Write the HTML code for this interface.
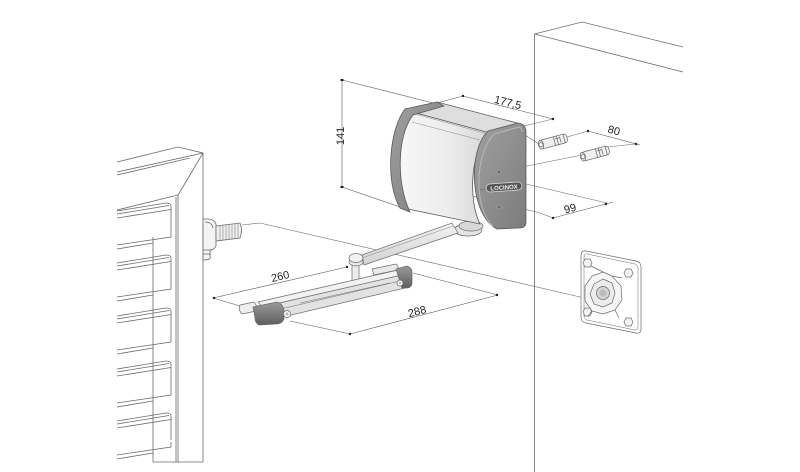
<!DOCTYPE html>
<html><head><meta charset="utf-8"><style>
html,body{margin:0;padding:0;background:#fff;}
svg{display:block}
text{font-family:"Liberation Sans",sans-serif;font-size:11px;fill:#222}
</style></head><body>
<svg width="800" height="472" viewBox="0 0 800 472" xmlns="http://www.w3.org/2000/svg">
<defs>
<linearGradient id="body" x1="0" y1="0" x2="1" y2="0">
 <stop offset="0" stop-color="#f7f7f7"/><stop offset="0.55" stop-color="#ececec"/><stop offset="1" stop-color="#d6d6d6"/>
</linearGradient>
<linearGradient id="cap" x1="0" y1="0" x2="1" y2="1">
 <stop offset="0" stop-color="#a0a0a0"/><stop offset="1" stop-color="#7c7c7c"/>
</linearGradient>
<linearGradient id="dk" x1="0" y1="0" x2="0" y2="1">
 <stop offset="0" stop-color="#9a9a9a"/><stop offset="1" stop-color="#5e5e5e"/>
</linearGradient>
<linearGradient id="arm" x1="0" y1="0" x2="0" y2="1">
 <stop offset="0" stop-color="#f2f2f2"/><stop offset="1" stop-color="#d2d2d2"/>
</linearGradient>
</defs>

<!-- WALL -->
<g fill="none" stroke="#6e6e6e" stroke-width="0.8">
 <path d="M534.5,34 V472 M534.5,34 L582,22 L683,47 M534.5,34 L683,72"/>
</g>

<!-- GATE -->
<g fill="none" stroke="#6a6a6a" stroke-width="0.8">
 <path d="M117,162 L178,147 L203,153 V462 H153"/>
 <path d="M117,172 L203,153 M117,175 L190,158"/>
 <path d="M203,153 L178,195 V462 M176,197 V462 M117,210 L178,195"/>
 <path d="M153,237 V462"/>
 <!-- slats -->
 <g id="slat">
  <path d="M117,211 L166,203 Q171,203 171,206 V237 L117,245 M117,214 L169,205.5 M117,218 L171,209.5 M117,249 L153,243"/>
 </g>
 <use href="#slat" transform="translate(0,52)"/>
 <use href="#slat" transform="translate(0,105)"/>
 <use href="#slat" transform="translate(0,158)"/>
 <use href="#slat" transform="translate(0,210)"/>
</g>
<rect x="153.5" y="440" width="22" height="2" fill="#fff"/>

<!-- hinge bolt on gate -->
<g stroke="#6a6a6a" stroke-width="0.8">
 <path d="M203,219 Q214,218 216,224 L216,246 Q214,250 210,250 L210,256 Q212,260 203,260 Z" fill="#f4f4f4"/>
 <path d="M203,250 H212 M203,254 H211 M205,222 Q212,222 213,228" fill="none"/>
 <path d="M216,226 L240,223 Q243,230 240,238 L216,241 Z" fill="#f0f0f0"/>
 <path d="M220,226 V241 M223,225.5 V240.5 M226,225 V240 M229,224.7 V239.7 M232,224.4 V239.4 M235,224 V239 M238,223.6 V238.6" stroke-width="0.5" fill="none"/>
</g>

<!-- long thin construction lines -->
<g fill="none" stroke="#6a6a6a" stroke-width="0.6">
 <path d="M242,225 L260,223 L593,300"/>
 <!-- box to wall lines -->
 <path d="M520,127 L553,119"/>
 <path d="M522,133 L540,145"/>
 <path d="M522,167 L582,155"/>
 <path d="M522,183 L607,203"/>
 <path d="M473,196 L540,213 L553,218"/>
 <path d="M567,137 L588,131"/>
 <path d="M608,147 L635,144"/>
</g>

<!-- DIMENSIONS -->
<g fill="none" stroke="#555" stroke-width="0.6">
 <!-- 141 -->
 <path d="M342,80 V187 M342,80 L433,103 M342,187 L400,207"/>
 <!-- 177,5 -->
 <path d="M437,103 L463,96 L553,119"/>
 <!-- 80 -->
 <path d="M588,131 L640,145"/>
 <!-- 99 -->
 <path d="M553,218 L613,202"/>
 <!-- 260 -->
 <path d="M213,298 L347,267 M213,298 L240,306"/>
 <!-- 288 -->
 <path d="M290,321 L350,334 L498,295 M413,273 L498,295"/>
</g>
<g fill="#222">
 <rect x="340.5" y="79" width="3" height="2"/><rect x="340.5" y="186" width="3" height="2"/>
 <circle cx="463" cy="96" r="1.2"/><circle cx="553" cy="119" r="1.2"/>
 <circle cx="588" cy="131" r="1.2"/><circle cx="636" cy="144" r="1.2"/>
 <circle cx="553" cy="218" r="1.2"/><circle cx="606" cy="204" r="1.2"/>
 <circle cx="214" cy="298" r="1.2"/><circle cx="347" cy="267" r="1.2"/>
 <circle cx="350" cy="334" r="1.2"/><circle cx="497" cy="295" r="1.2"/>
</g>
<text transform="translate(344,136) rotate(-90)" text-anchor="middle">141</text>
<text transform="translate(507,106) rotate(14)" text-anchor="middle">177,5</text>
<text transform="translate(613,134) rotate(15)" text-anchor="middle">80</text>
<text transform="translate(571,212) rotate(-15)" text-anchor="middle">99</text>
<text transform="translate(281,280) rotate(-13)" text-anchor="middle">260</text>
<text transform="translate(418,315) rotate(-15)" text-anchor="middle">288</text>

<!-- WALL ANCHORS -->
<g stroke="#666" stroke-width="0.7">
 <g transform="translate(540,145) rotate(-15)">
  <rect x="0" y="-4.5" width="28" height="9" rx="3" fill="#efefef"/>
  <ellipse cx="1" cy="0" rx="2.5" ry="4.5" fill="#e2e2e2"/>
  <circle cx="1" cy="0" r="2" fill="#fff"/>
  <path d="M15,-4.5 V4.5 M18,-4.5 V4.5 M16,-2 H21 M21,-3 V3 M25,-4.5 V4.5" fill="none"/>
 </g>
 <g transform="translate(582,157) rotate(-15)">
  <rect x="0" y="-4.5" width="28" height="9" rx="3" fill="#efefef"/>
  <ellipse cx="1" cy="0" rx="2.5" ry="4.5" fill="#e2e2e2"/>
  <circle cx="1" cy="0" r="2" fill="#fff"/>
  <path d="M15,-4.5 V4.5 M18,-4.5 V4.5 M16,-2 H21 M21,-3 V3 M25,-4.5 V4.5" fill="none"/>
 </g>
</g>

<!-- WALL PLATE -->
<g stroke="#6a6a6a" stroke-width="0.7" fill="#fff">
 <path d="M586,251 L636,261 Q641,262 641,267 L641,329 Q641,334 636,333 L586,323 Q581,322 581,317 L581,256 Q581,250 586,251 Z"/>
 <path d="M587,254 L635,264 Q638,265 638,269 L638,327 Q638,330 635,330 L587,320 Q584,319 584,316 L584,258 Q584,253 587,254 Z" fill="none" stroke-width="0.5"/>
 <g fill="#f4f4f4">
  <path d="M583,263 L585,259 L590,259 L592,263 L590,267 L585,267 Z"/>
  <path d="M624,273 L626,269 L631,269 L633,273 L631,277 L626,277 Z"/>
  <path d="M583,312 L585,308 L590,308 L592,312 L590,316 L585,316 Z"/>
  <path d="M624,322 L626,318 L631,318 L633,322 L631,326 L626,326 Z"/>
 </g>
 <path d="M603,272 L612,276 L621,286 L622,300 L615,310 L603,314 L592,311 L585,301 L585,286 L592,276 Z" fill="#f6f6f6"/>
 <path d="M591,266 L603,272 M622,278 L612,276 M588,316 L592,311 M619,318 L615,310" fill="none"/>
 <path d="M603,279 L612,283 L615,293 L612,303 L603,307 L594,304 L590,294 L594,284 Z" fill="#ececec"/>
 <circle cx="603" cy="293" r="6.5" fill="#d4d4d4"/>
 <circle cx="603" cy="293" r="3.5" fill="#bcbcbc" stroke="none"/>
</g>

<!-- ARM -->
<g stroke="#6a6a6a" stroke-width="0.7">
 <ellipse cx="468" cy="230" rx="14" ry="6" fill="#e4e4e4"/>
 <ellipse cx="471" cy="226" rx="12" ry="5" fill="#d8d8d8"/>
 <path d="M362,255 L452,223 L458,233 L364,265 Z" fill="url(#arm)"/>
 <path d="M362,258 L453,226" fill="none" stroke-width="0.4"/>
 <rect x="352" y="261" width="7" height="26" fill="#ececec"/>
 <ellipse cx="356" cy="262" rx="7" ry="4" fill="#e6e6e6"/>
 <ellipse cx="356" cy="258" rx="7" ry="4.5" fill="#f2f2f2"/>
</g>

<!-- RAIL -->
<g stroke="#6a6a6a" stroke-width="0.7">
 <path d="M372,269 L396,264 Q399,266 398,270 L374,275 Z" fill="#e8e8e8"/>
 <path d="M240,305 L254,302 Q258,306 256,311 L242,314 Q238,310 240,305 Z" fill="#eeeeee"/>
 <path d="M258,302 L398,270 L402,275 L262,307 Z" fill="#f2f2f2"/>
 <path d="M262,307 L402,275 L405,288 L266,321 Z" fill="#e2e2e2"/>
 <path d="M268,312 L400,281 M300,303 L390,283" fill="none" stroke-width="0.5"/>
 <path d="M253,307 L277,302 Q283,304 284,310 L284,319 Q282,324 276,324 L259,325 Q255,323 255,318 Z" fill="url(#dk)"/>
 <path d="M396,269 L407,266 Q412,268 412,272 L412,284 Q411,288 406,288 L402,288 Z" fill="url(#dk)"/>
 <circle cx="287" cy="314" r="3.5" fill="#f6f6f6"/>
 <circle cx="287" cy="314" r="1.5" fill="#bbb" stroke="none"/>
 <circle cx="400" cy="283" r="3" fill="#f6f6f6"/>
 <circle cx="400" cy="283" r="1.2" fill="#bbb" stroke="none"/>
</g>

<!-- CLOSER BOX -->
<g stroke="#5a5a5a" stroke-width="0.8">
 <!-- body -->
 <path d="M412,112 L490,132 C470,150 468,200 480,224 L408,209 C396,180 398,135 412,112 Z" fill="url(#body)"/>
 <!-- top face -->
 <path d="M405,110 L437,102 L521,124 L490,133 Z" fill="#dedede"/>
 <path d="M415,114 L488,134 M412,122 L480,140" fill="none" stroke-width="0.5" stroke="#888"/>
 <!-- left rim -->
 <path d="M437,102 L405,109 C389,130 385,182 400,208 L410,212 C396,182 397,136 413,115 L444,106 Z" fill="url(#cap)"/>
 <!-- right end cap -->
 <path d="M488,131 L518,123 Q526,124 526,132 L526,222 Q526,228 519,228 L497,229 C469,214 468,150 488,131 Z" fill="url(#cap)"/>
 <path d="M494,134 L519,127 Q522,128 522,132 M493,226 C474,210 474,155 494,134" fill="none" stroke="#b8b8b8" stroke-width="1"/>
 <circle cx="499" cy="172" r="2" fill="#6a6a6a" stroke="#bbb" stroke-width="0.6"/>
 <circle cx="499" cy="207" r="2" fill="#6a6a6a" stroke="#bbb" stroke-width="0.6"/>
 <path d="M480,190 L522,183" fill="none" stroke="#666" stroke-width="0.5"/>
 <rect x="486" y="183" width="36" height="8" rx="4" fill="#555" stroke="#ddd" stroke-width="0.8" transform="rotate(-4 504 187)"/>
</g>
<text x="504" y="189.5" text-anchor="middle" transform="rotate(-4 504 187)" style="font-size:6px;fill:#f0f0f0;font-weight:bold">LOCINOX</text>
</svg>
</body></html>
